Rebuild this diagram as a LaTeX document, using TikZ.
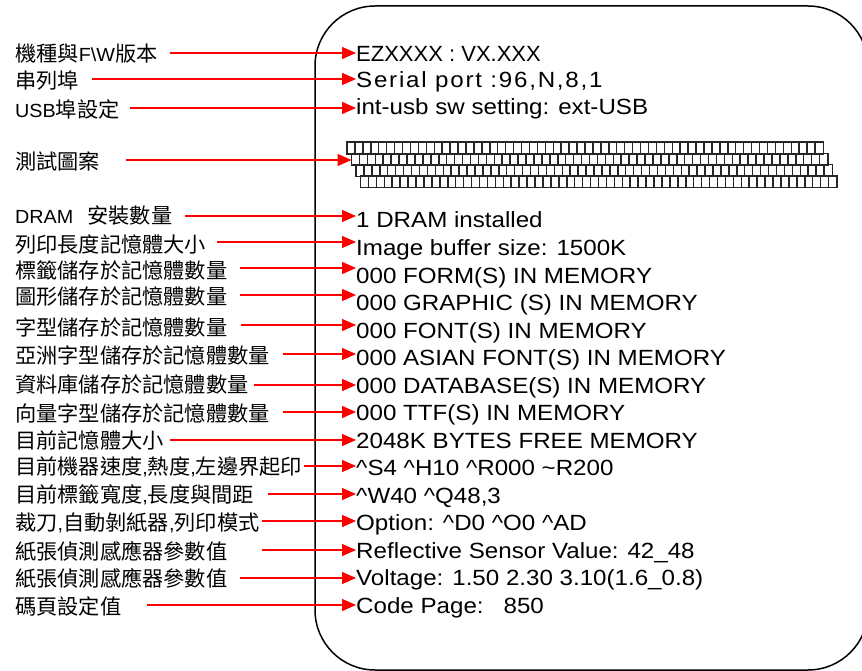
\documentclass[tikz,border=0pt]{standalone}
\usepackage{fontspec}
\setmainfont{Liberation Sans}
\newfontfamily\cjk{Noto Sans CJK TC}[FakeStretch=1.01]
\newfontfamily\latl{Liberation Sans}[FakeStretch=1.04]
\newfontfamily\rtxt{Liberation Sans}[FakeStretch=1.097]
\newfontfamily\rtxtn{Liberation Sans}[FakeStretch=1.0]
\newfontfamily\rtxtw{Liberation Sans}[FakeStretch=1.097,LetterSpace=8]
\usetikzlibrary{arrows.meta}
\tikzset{
  lbl/.style={anchor=west, inner sep=0pt, font=\cjk\fontsize{21}{24}\selectfont},
  val/.style={anchor=base west, inner sep=0pt, font=\rtxt\fontsize{22}{26}\selectfont},
  arr/.style={draw=red, line width=1.4pt, -{Triangle[length=14pt,width=12pt]}},
  frame/.style={draw=black, line width=1.5pt, rounded corners=60pt},
  patrow/.style={inner sep=0pt, minimum width=476pt, minimum height=11.4pt, anchor=north west}
}
\newcommand{\LL}[1]{{\latl\fontsize{19}{24}\selectfont #1}}
\begin{document}
\begin{tikzpicture}[x=1pt,y=-1pt]
\useasboundingbox (0,0) rectangle (862,671);
\path[frame] (315,6) rectangle (868,670);

% left labels
\node[lbl] (l1)  at (15,54)  {機種與\LL{F\textbackslash W}版本};
\node[lbl] (l2)  at (15,81)  {串列埠};
\node[lbl] (l3)  at (15,109) {\LL{USB}埠設定};
\node[lbl] (l4)  at (15,162) {測試圖案};
\node[lbl] (l5)  at (15,216) {\LL{DRAM}\hspace{14pt}安裝數量};
\node[lbl] (l6)  at (15,244) {列印長度記憶體大小};
\node[lbl] (l7)  at (15,270) {標籤儲存於記憶體數量};
\node[lbl] (l8)  at (15,297) {圖形儲存於記憶體數量};
\node[lbl] (l9)  at (15,327) {字型儲存於記憶體數量};
\node[lbl] (l10) at (15,355) {亞洲字型儲存於記憶體數量};
\node[lbl] (l11) at (15,384) {資料庫儲存於記憶體數量};
\node[lbl] (l12) at (15,413) {向量字型儲存於記憶體數量};
\node[lbl] (l13) at (15,440) {目前記憶體大小};
\node[lbl] (l14) at (15,467) {目前機器速度\LL{,}熱度\LL{,}左邊界起印};
\node[lbl] (l15) at (15,495) {目前標籤寬度\LL{,}長度與間距};
\node[lbl] (l16) at (15,523) {裁刀\LL{,}自動剝紙器\LL{,}列印模式};
\node[lbl] (l17) at (15,551) {紙張偵測感應器參數值};
\node[lbl] (l18) at (15,578) {紙張偵測感應器參數值};
\node[lbl] (l19) at (15,606) {碼頁設定值};

% right values
\node[val, font=\rtxtn\fontsize{22}{26}\selectfont] (r1) at (356,62) {EZXXXX : VX.XXX};
\node[val, font=\rtxtw\fontsize{22}{26}\selectfont] (r2) at (356,88) {Serial port :96,N,8,1};
\node[val] (r3)  at (356,115)   {int-usb sw setting: ext-USB};
\node[val] (r5)  at (356,228)   {1 DRAM installed};
\node[val] (r6)  at (356,255.5) {Image buffer size: 1500K};
\node[val] (r7)  at (356,283)   {000 FORM(S) IN MEMORY};
\node[val] (r8)  at (356,310.5) {000 GRAPHIC (S) IN MEMORY};
\node[val] (r9)  at (356,338)   {000 FONT(S) IN MEMORY};
\node[val] (r10) at (356,365.5) {000 ASIAN FONT(S) IN MEMORY};
\node[val] (r11) at (356,393)   {000 DATABASE(S) IN MEMORY};
\node[val] (r12) at (356,420.5) {000 TTF(S) IN MEMORY};
\node[val] (r13) at (356,448)   {2048K BYTES FREE MEMORY};
\node[val] (r14) at (356,475.5) {\textasciicircum S4 \textasciicircum H10 \textasciicircum R000 \textasciitilde R200};
\node[val] (r15) at (356,503)   {\textasciicircum W40 \textasciicircum Q48,3};
\node[val] (r16) at (356,530.5) {Option: \textasciicircum D0 \textasciicircum O0 \textasciicircum AD};
\node[val] (r17) at (356,558)   {Reflective Sensor Value: 42\_48};
\node[val] (r18) at (356,585.5) {Voltage: 1.50 2.30 3.10(1.6\_0.8)};
\node[val] (r19) at (356,613)   {Code Page:\hspace{20pt}850};

% test pattern
\node[patrow] (p1) at (347,142) {};
\node[patrow] (p2) at (351.5,153.3) {};
\node[patrow] (p3) at (356,164.6) {};
\node[patrow] (p4) at (360.5,175.9) {};
\foreach \p in {p1,p2,p3,p4}{
  \draw[line width=1.5pt, black!85] (\p.north west) rectangle (\p.south east);
  \foreach \i in {1,...,59}{
    \draw[line width=1.5pt, black!85] ([xshift=\i*7.933pt]\p.north west) -- ([xshift=\i*7.933pt]\p.south west);
  }
}

% arrow starts
\coordinate (s1)  at (170,53);
\coordinate (s2)  at (92,79);
\coordinate (s3)  at (130,108);
\coordinate (s4)  at (126,160);
\coordinate (s5)  at (185,216);
\coordinate (s6)  at (217,242);
\coordinate (s7)  at (240,268);
\coordinate (s8)  at (240,295);
\coordinate (s9)  at (241,325);
\coordinate (s10) at (283,354);
\coordinate (s11) at (254,385);
\coordinate (s12) at (283,412);
\coordinate (s13) at (170,440);
\coordinate (s14) at (304,466);
\coordinate (s15) at (268,494);
\coordinate (s16) at (262,521);
\coordinate (s17) at (262,550);
\coordinate (s18) at (240,578);
\coordinate (s19) at (147,605);

\foreach \k in {1,2,3,5,6,7,8,9,10,11,12,13,14,15,16,17,18,19}{
  \draw[arr] (s\k) -- (s\k -| r\k.west);
}
\draw[arr] (s4) -- (s4 -| p2.west);
\end{tikzpicture}
\end{document}
